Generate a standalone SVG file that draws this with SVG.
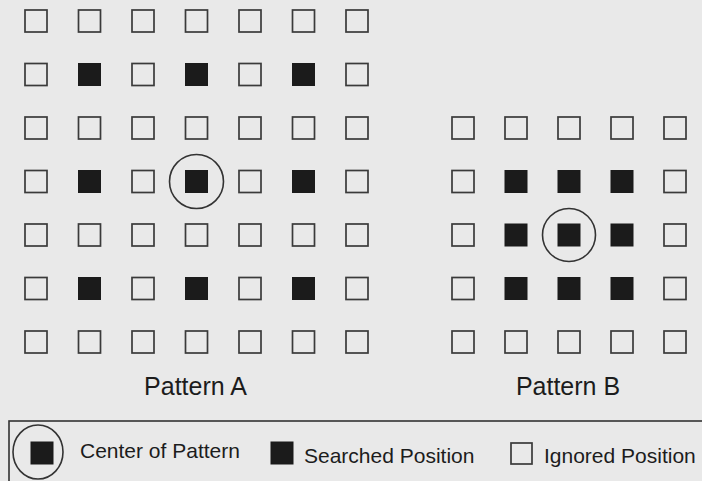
<svg xmlns="http://www.w3.org/2000/svg" xmlns:xlink="http://www.w3.org/1999/xlink" width="702" height="481" viewBox="0 0 702 481">
<style>
.ign{fill:none;stroke:#3a3a3a;stroke-width:1.7}
.srch{fill:#1b1b1b;stroke:#1b1b1b;stroke-width:1}
.ring{fill:none;stroke:#333;stroke-width:1.6}
.lbl{font-family:"Liberation Sans",Arial,sans-serif;fill:#1c1c1c}
.big{font-size:25px;text-anchor:middle}
.small{font-size:21px}
</style>
<defs>
<rect id="o" width="22" height="22" class="ign"/>
<rect id="f" width="22" height="22" class="srch"/>
</defs>
<rect width="702" height="481" fill="#e9e9e9"/>
<g id="patternA">
<use href="#o" x="25" y="10"/><use href="#o" x="78.5" y="10"/><use href="#o" x="132" y="10"/><use href="#o" x="185.5" y="10"/><use href="#o" x="239" y="10"/><use href="#o" x="292.5" y="10"/><use href="#o" x="346" y="10"/>
<use href="#o" x="25" y="63.5"/><use href="#f" x="78.5" y="63.5"/><use href="#o" x="132" y="63.5"/><use href="#f" x="185.5" y="63.5"/><use href="#o" x="239" y="63.5"/><use href="#f" x="292.5" y="63.5"/><use href="#o" x="346" y="63.5"/>
<use href="#o" x="25" y="117"/><use href="#o" x="78.5" y="117"/><use href="#o" x="132" y="117"/><use href="#o" x="185.5" y="117"/><use href="#o" x="239" y="117"/><use href="#o" x="292.5" y="117"/><use href="#o" x="346" y="117"/>
<use href="#o" x="25" y="170.5"/><use href="#f" x="78.5" y="170.5"/><use href="#o" x="132" y="170.5"/><use href="#f" x="185.5" y="170.5"/><use href="#o" x="239" y="170.5"/><use href="#f" x="292.5" y="170.5"/><use href="#o" x="346" y="170.5"/>
<use href="#o" x="25" y="224"/><use href="#o" x="78.5" y="224"/><use href="#o" x="132" y="224"/><use href="#o" x="185.5" y="224"/><use href="#o" x="239" y="224"/><use href="#o" x="292.5" y="224"/><use href="#o" x="346" y="224"/>
<use href="#o" x="25" y="277.5"/><use href="#f" x="78.5" y="277.5"/><use href="#o" x="132" y="277.5"/><use href="#f" x="185.5" y="277.5"/><use href="#o" x="239" y="277.5"/><use href="#f" x="292.5" y="277.5"/><use href="#o" x="346" y="277.5"/>
<use href="#o" x="25" y="331"/><use href="#o" x="78.5" y="331"/><use href="#o" x="132" y="331"/><use href="#o" x="185.5" y="331"/><use href="#o" x="239" y="331"/><use href="#o" x="292.5" y="331"/><use href="#o" x="346" y="331"/>
<circle class="ring" cx="196.5" cy="181.5" r="27"/>
<text class="lbl big" x="195.5" y="395">Pattern A</text>
</g>
<g id="patternB">
<use href="#o" x="452" y="117"/><use href="#o" x="505" y="117"/><use href="#o" x="558" y="117"/><use href="#o" x="611" y="117"/><use href="#o" x="664" y="117"/>
<use href="#o" x="452" y="170.5"/><use href="#f" x="505" y="170.5"/><use href="#f" x="558" y="170.5"/><use href="#f" x="611" y="170.5"/><use href="#o" x="664" y="170.5"/>
<use href="#o" x="452" y="224"/><use href="#f" x="505" y="224"/><use href="#f" x="558" y="224"/><use href="#f" x="611" y="224"/><use href="#o" x="664" y="224"/>
<use href="#o" x="452" y="277.5"/><use href="#f" x="505" y="277.5"/><use href="#f" x="558" y="277.5"/><use href="#f" x="611" y="277.5"/><use href="#o" x="664" y="277.5"/>
<use href="#o" x="452" y="331"/><use href="#o" x="505" y="331"/><use href="#o" x="558" y="331"/><use href="#o" x="611" y="331"/><use href="#o" x="664" y="331"/>
<circle class="ring" cx="569" cy="235" r="26.5"/>
<text class="lbl big" x="568" y="395">Pattern B</text>
</g>
<g id="legend">
<rect x="9" y="421" width="700" height="70" fill="none" stroke="#333" stroke-width="1.6"/>
<ellipse class="ring" cx="38" cy="452" rx="25" ry="27"/>
<use href="#f" x="31" y="442"/>
<text class="lbl small" x="80" y="458">Center of Pattern</text>
<use href="#f" x="271" y="442"/>
<text class="lbl small" x="304" y="463">Searched Position</text>
<rect class="ign" x="511" y="443" width="21" height="21"/>
<text class="lbl small" x="544" y="463">Ignored Position</text>
</g>
</svg>
